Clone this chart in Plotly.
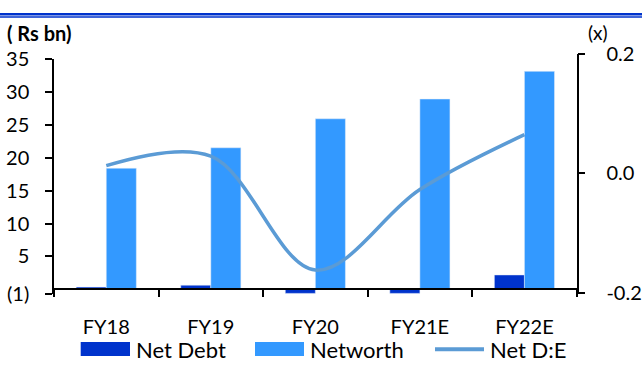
import plotly.graph_objects as go

W, H = 642, 372
categories = ["FY18", "FY19", "FY20", "FY21E", "FY22E"]
net_debt = [0.35, 0.64, -0.6, -0.6, 2.2]
networth = [18.4, 21.5, 25.9, 28.9, 33.1]
net_de = [0.013, 0.029, -0.162, -0.027, 0.065]
left_ticks = [-0.64, 5, 10, 15, 20, 25, 30, 35]
left_ticktext = ["(1)", "5", "10", "15", "20", "25", "30", "35"]
right_ticks = [-0.2, 0.0, 0.2]
right_ticktext = ["-0.2", "0.0", "0.2"]

DARK = "#0033CC"
LIGHT = "#3399FF"
LINE = "#5B9BD5"
FONT = "Lato"

def px(x):
    return x / W

def py(y):
    return 1 - y / H

fig = go.Figure()
fig.add_trace(go.Bar(x=categories, y=net_debt, name="Net Debt", marker_color=DARK,
                     xaxis="x", yaxis="y"))
fig.add_trace(go.Bar(x=categories, y=networth, name="Networth", marker_color=LIGHT,
                     xaxis="x", yaxis="y"))
fig.add_trace(go.Scatter(x=categories, y=net_de, name="Net D:E", mode="lines",
                         line=dict(color=LINE, width=3.5, shape="spline", smoothing=1),
                         xaxis="x", yaxis="y2", cliponaxis=False))

x_dom = [px(54), px(576.7)]
fig.update_layout(
    width=W, height=H,
    margin=dict(l=0, r=0, t=0, b=0),
    paper_bgcolor="white", plot_bgcolor="rgba(0,0,0,0)",
    showlegend=False,
    barmode="group", bargap=0.425, bargroupgap=0,
    font=dict(family=FONT, size=20, color="black"),
    xaxis=dict(domain=x_dom, anchor="free", position=py(295.5),
               showline=True, linecolor="black", linewidth=1.5,
               ticks="outside", ticklen=7, tickwidth=1.5, tickcolor="black",
               tickson="boundaries", showgrid=False, zeroline=False,
               ticklabelstandoff=20, tickfont=dict(size=20)),
    yaxis=dict(domain=[py(300), py(49)], anchor="x", range=[-0.64, 35],
               tickvals=left_ticks, ticktext=left_ticktext,
               showline=True, linecolor="black", linewidth=1.5,
               ticks="outside", ticklen=7, tickwidth=1.5, tickcolor="black",
               showgrid=False, zeroline=False, ticklabelstandoff=12,
               tickfont=dict(size=20)),
    yaxis2=dict(domain=[py(299), py(44)], anchor="x", side="right",
                range=[-0.2, 0.2], tickvals=right_ticks, ticktext=right_ticktext,
                showline=True, linecolor="black", linewidth=1.5,
                ticks="outside", ticklen=7, tickwidth=1.5, tickcolor="black",
                showgrid=False, zeroline=False, ticklabelstandoff=17,
                tickfont=dict(size=20)),
)

shapes = [
    dict(type="rect", xref="paper", yref="paper", x0=0, x1=1, y0=py(0), y1=py(2.6),
         fillcolor=DARK, line_width=0),
    dict(type="rect", xref="paper", yref="paper", x0=0, x1=1, y0=py(3.6), y1=py(5.2),
         fillcolor=DARK, line_width=0),
    dict(type="rect", xref="paper", yref="paper", x0=px(80.7), x1=px(130),
         y0=py(366.7), y1=py(351.7), fillcolor=DARK, line_width=0),
    dict(type="rect", xref="paper", yref="paper", x0=px(255), x1=px(304),
         y0=py(366.7), y1=py(351.7), fillcolor=LIGHT, line_width=0),
    dict(type="line", xref="paper", yref="paper", x0=px(435), x1=px(484),
         y0=py(359.5), y1=py(359.5), line=dict(color=LINE, width=4)),
]
fig.update_layout(shapes=shapes)

annots = [
    dict(text="( Rs bn)", x=px(5), y=py(21), xanchor="left", yanchor="middle",
         font=dict(size=20, family=FONT, color="black", weight="bold")),
    dict(text="(x)", x=px(586), y=py(21), xanchor="left", yanchor="middle",
         font=dict(size=19, family=FONT, color="black")),
    dict(text="Net Debt", x=px(134), y=py(360), xanchor="left", yanchor="middle",
         font=dict(size=22, family=FONT, color="black")),
    dict(text="Networth", x=px(308), y=py(360), xanchor="left", yanchor="middle",
         font=dict(size=22, family=FONT, color="black")),
    dict(text="Net D:E", x=px(488), y=py(360), xanchor="left", yanchor="middle",
         font=dict(size=22, family=FONT, color="black")),
]
for a in annots:
    a.update(xref="paper", yref="paper", showarrow=False)
fig.update_layout(annotations=annots)

fig.write_html("out.html", config={"displayModeBar": False},
               post_script="var s=document.createElement('style');s.innerHTML='html,body{margin:0!important;padding:0!important;overflow:hidden}';document.head.appendChild(s);")
